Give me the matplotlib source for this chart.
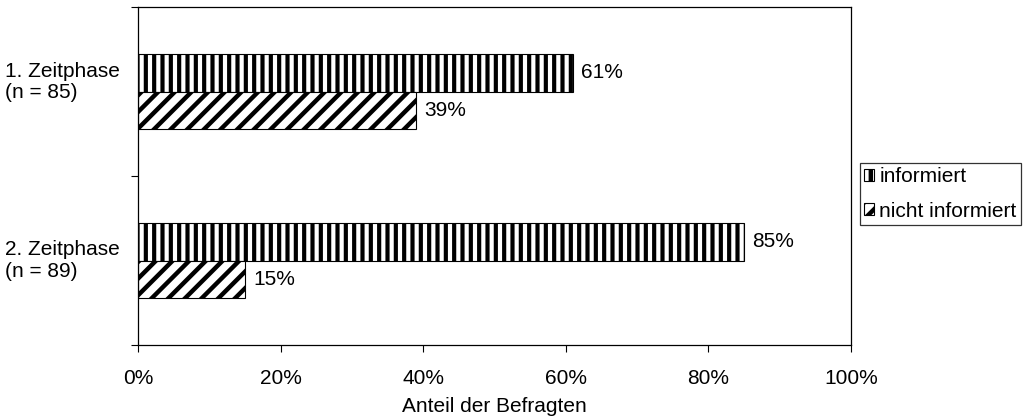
import matplotlib
matplotlib.use("Agg")
import matplotlib.pyplot as plt
import matplotlib.transforms as mtransforms
import numpy as np

# daten
phasen = ["1. Zeitphase\n(n = 85)", "2. Zeitphase\n(n = 89)"]
informiert = [61, 85]
nicht_informiert = [39, 15]
serien = ["informiert", "nicht informiert"]
x_ticks = [0, 20, 40, 60, 80, 100]

plt.rcParams["font.family"] = ["Liberation Sans", "DejaVu Sans"]
plt.rcParams["font.size"] = 15
plt.rcParams["hatch.color"] = "black"

fig = plt.figure(figsize=(10.32, 4.17), dpi=100)
ax = fig.add_axes([0.1337, 0.1727, 0.6909, 0.8103])

y = np.arange(len(phasen))
h = 0.22

plt.rcParams["hatch.linewidth"] = 3.0
b1 = ax.barh(y - h / 2, informiert, height=h, color="white", edgecolor="black",
             hatch="||", linewidth=0.8, label=serien[0])
plt.rcParams["hatch.linewidth"] = 3.2
b2 = ax.barh(y + h / 2, nicht_informiert, height=h, color="white", edgecolor="black",
             hatch="//", linewidth=0.8, label=serien[1])

for bars, vals in [(b1, informiert), (b2, nicht_informiert)]:
    for rect, v in zip(bars, vals):
        ax.text(rect.get_width() + 1.2, rect.get_y() + rect.get_height() / 2,
                f"{v}%", va="center", ha="left")

# kategorienamen links, etwas verschoben wie im original
trans = mtransforms.blended_transform_factory(fig.transFigure, ax.transData)
offsets = [-0.055, 0.0]
for yi, name, off in zip(y, phasen, offsets):
    fig.text(0.005, yi + off, name, transform=trans, ha="left", va="center",
             linespacing=1.15)

ax.set_xlim(0, 100)
ax.set_ylim(len(phasen) - 0.5, -0.5)
ax.set_xticks(x_ticks)
ax.set_xticklabels([f"{t}%" for t in x_ticks])
ax.set_yticks(np.arange(len(phasen) + 1) - 0.5)
ax.set_yticklabels([])
ax.tick_params(axis="y", length=5, direction="out")
ax.tick_params(axis="x", length=5, direction="out", pad=12)
for s in ax.spines.values():
    s.set_linewidth(0.9)
ax.set_xlabel("Anteil der Befragten", labelpad=7)

leg = ax.legend(loc="center left", bbox_to_anchor=(1.012, 0.447), frameon=True,
                fancybox=False, edgecolor="black", handlelength=0.5,
                handleheight=0.5, handletextpad=0.25, borderpad=0.2,
                labelspacing=0.74, borderaxespad=0.0)
leg.get_frame().set_linewidth(0.9)

fig.savefig("out.png", dpi=100)
